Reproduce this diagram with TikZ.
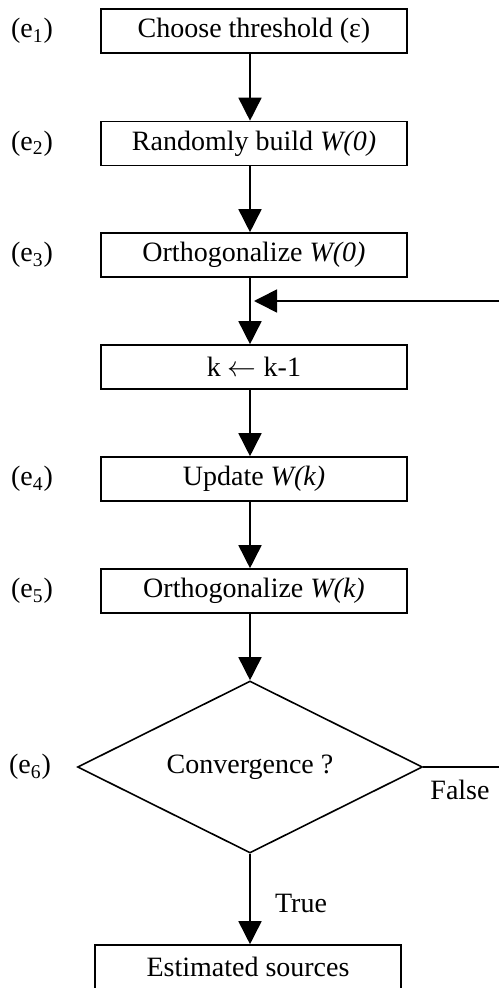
\documentclass[tikz,border=0pt]{standalone}
\usepackage{fontspec}
\setmainfont{Liberation Serif}
\usetikzlibrary{shapes.geometric,arrows.meta}
\begin{document}
\begin{tikzpicture}[
      x=0.5pt, y=-0.5pt,
      line width = 0.8pt,
      font=\fontsize{14}{16}\selectfont,
      B/.style={draw, rectangle, minimum width=153pt, minimum height=22pt, inner sep=0pt},
      D/.style={draw, diamond, aspect=2, minimum width=172.5pt, minimum height=86pt, inner sep=0pt},
      E/.style={inner sep=0pt},
      A/.style={-{Triangle[length=11.5pt,width=11.5pt]}}]
  \useasboundingbox (0,0) rectangle (499,988);
  \coordinate (axis) at (250,0);
  \node[B] (e1) at (254,31) {Choose threshold (ε)};
  \node[B] (e2) at (254,143.5) {Randomly build \textit{W(0)}};
  \node[B] (e3) at (254,255) {Orthogonalize \textit{W(0)}};
  \node[B] (k) at (254,367) {k $\leftarrow$ k-1};
  \node[B] (e4) at (254,479) {Update \textit{W(k)}};
  \node[B] (e5) at (254,591) {Orthogonalize \textit{W(k)}};
  \node[D] (d) at (250,767) {Convergence ?};
  \node[B] (out) at (248,967) {Estimated sources};
  \node[E] (l1) at (32,31) {(e\textsubscript{1})};
  \node[E] (l2) at (32,143.5) {(e\textsubscript{2})};
  \node[E] (l3) at (32,255) {(e\textsubscript{3})};
  \node[E] (l4) at (32,479) {(e\textsubscript{4})};
  \node[E] (l5) at (32,591) {(e\textsubscript{5})};
  \node[E] (l6) at (30,767) {(e\textsubscript{6})};
  \node[E] (t) at (301,903) {True};
  \node[E] (f) at (460,790) {False};
  \coordinate (fin) at (499,301);
  \coordinate (fout) at (499,767);
  \draw[A] (e1.south -| axis) -- (e2.north -| axis);
  \draw[A] (e2.south -| axis) -- (e3.north -| axis);
  \draw[A] (e3.south -| axis) -- (k.north -| axis);
  \draw[A] (k.south -| axis) -- (e4.north -| axis);
  \draw[A] (e4.south -| axis) -- (e5.north -| axis);
  \draw[A] (e5.south -| axis) -- (d.north);
  \draw[A] (d.south) -- (out.north -| d.south);
  \draw[A, shorten >=2pt] (fin) -- (fin -| axis);
  \draw (d.east) -- (fout);
\end{tikzpicture}
\end{document}
